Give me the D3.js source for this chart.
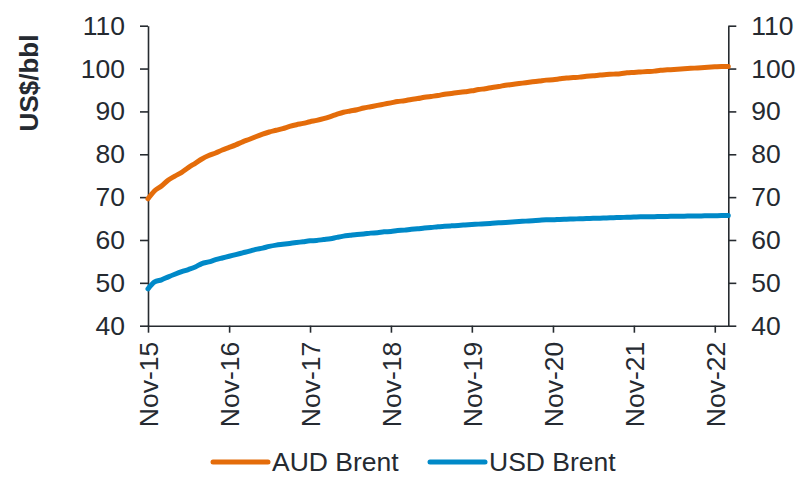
<!DOCTYPE html>
<html><head><meta charset="utf-8">
<script src="https://cdn.jsdelivr.net/npm/d3@7"></script>
<style>
html,body{margin:0;padding:0;background:#fff;}
text{font-family:"Liberation Sans",Arial,sans-serif;fill:#252a31;}
</style></head>
<body><svg id="chart" width="800" height="477"></svg>
<script>
// Monthly, Nov-15 .. Jan-23
const startMonth = "2015-11";
const audBrent = [69.6,71.5,72.6,74.0,74.9,75.8,76.9,77.9,78.9,79.7,
  80.3,81.0,81.6,82.2,82.9,83.5,84.1,84.7,85.2,85.6,
  86.0,86.5,86.9,87.2,87.6,87.9,88.3,88.8,89.3,89.8,
  90.1,90.4,90.8,91.1,91.4,91.7,92.0,92.3,92.5,92.8,
  93.0,93.3,93.5,93.7,94.0,94.2,94.4,94.6,94.8,95.1,
  95.3,95.6,95.8,96.1,96.3,96.5,96.7,96.9,97.1,97.3,
  97.4,97.6,97.8,97.9,98.0,98.2,98.3,98.5,98.6,98.7,
  98.8,99.0,99.1,99.2,99.3,99.4,99.6,99.7,99.8,99.9,
  100.0,100.1,100.2,100.3,100.4,100.5,100.5];
const usdBrent = [48.6,50.2,50.7,51.4,52.0,52.6,53.1,53.7,54.5,54.9,
  55.4,55.8,56.2,56.6,57.0,57.4,57.8,58.1,58.5,58.8,
  59.0,59.2,59.4,59.6,59.8,59.9,60.1,60.3,60.6,60.9,
  61.1,61.3,61.4,61.6,61.7,61.9,62.0,62.2,62.3,62.5,
  62.6,62.8,62.9,63.1,63.2,63.3,63.4,63.5,63.6,63.7,
  63.8,63.9,64.0,64.1,64.2,64.3,64.4,64.5,64.6,64.7,
  64.7,64.8,64.85,64.9,64.95,65.0,65.05,65.1,65.15,65.2,
  65.25,65.3,65.35,65.4,65.42,65.45,65.47,65.5,65.52,65.55,
  65.57,65.6,65.62,65.65,65.67,65.7,65.7];
const seriesNames = ["AUD Brent","USD Brent"];
const seriesColors = ["#e46c0a","#0089c8"];
const yTicks = [40,50,60,70,80,90,100,110];
const xTickLabels = ["Nov-15","Nov-16","Nov-17","Nov-18","Nov-19","Nov-20","Nov-21","Nov-22"];
const yLabel = "US$/bbl";

const parseM = d3.timeParse("%Y-%m");
const t0 = parseM(startMonth);
const dates = audBrent.map((_,i)=>d3.timeMonth.offset(t0,i));
const xTickDates = xTickLabels.map((_,i)=>d3.timeYear.offset(t0,i));

const svg = d3.select("#chart");
const axisColor = "#262b30";
const fs = 26.5;

const x = d3.scaleTime().domain([t0, d3.timeMonth.offset(t0, 86)]).range([148, 728.3]);
const y = d3.scaleLinear().domain([40,110]).range([325.7, 25.7]);

const gl = svg.append("g").attr("transform","translate(148,0)")
  .call(d3.axisLeft(y).tickValues(yTicks).tickSize(8).tickSizeOuter(0).tickPadding(15));
const gr = svg.append("g").attr("transform","translate(728.3,0)")
  .call(d3.axisRight(y).tickValues(yTicks).tickSize(8).tickSizeOuter(0).tickPadding(15));
const gb = svg.append("g").attr("transform","translate(0,325.7)")
  .call(d3.axisBottom(x).tickValues(xTickDates).tickSize(7).tickSizeOuter(0)
    .tickFormat((d,i)=>xTickLabels[i]));
gb.selectAll(".tick text")
  .attr("transform","translate(0,16) rotate(-90)")
  .attr("text-anchor","end").attr("x",0).attr("y",0).attr("dy","0.35em");

[gl,gr,gb].forEach(g=>{
  g.selectAll("path.domain").attr("stroke",axisColor).attr("stroke-width",1.6);
  g.selectAll(".tick line").attr("stroke",axisColor).attr("stroke-width",1.6);
  g.selectAll(".tick text").attr("font-size",fs).attr("fill","#252a31")
    .attr("font-family","'Liberation Sans',Arial,sans-serif");
});

svg.append("text").attr("transform","translate(38,83) rotate(-90)")
  .attr("text-anchor","middle").attr("font-size",26).attr("font-weight","bold")
  .text(yLabel);

const line = d3.line().x((d,i)=>x(dates[i])).y(d=>y(d)).curve(d3.curveMonotoneX);
[audBrent,usdBrent].forEach((s,k)=>{
  svg.append("path").datum(s).attr("d",line).attr("fill","none")
    .attr("stroke",seriesColors[k]).attr("stroke-width",5)
    .attr("stroke-linejoin","round").attr("stroke-linecap","round");
});

const legX = [213, 430];
seriesNames.forEach((n,k)=>{
  const g = svg.append("g").attr("transform",`translate(${legX[k]},462)`);
  g.append("line").attr("x1",0).attr("x2",55).attr("y1",0).attr("y2",0)
    .attr("stroke",seriesColors[k]).attr("stroke-width",5).attr("stroke-linecap","round");
  g.append("text").attr("x",59).attr("y",9).attr("font-size",fs).text(n);
});
</script></body></html>
